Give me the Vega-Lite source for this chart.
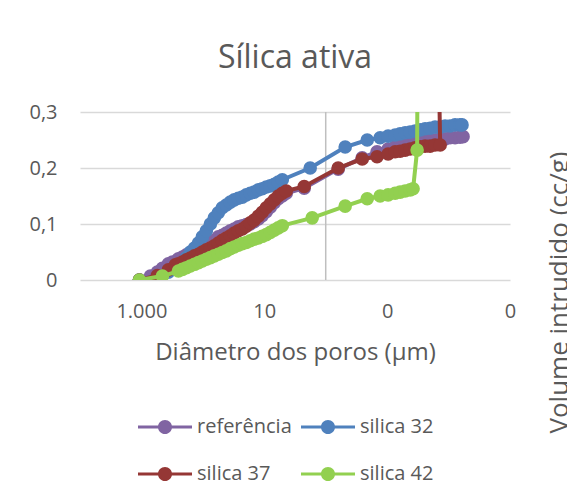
{
  "$schema": "https://vega.github.io/schema/vega-lite/v6.json",
  "width": 430,
  "height": 168,
  "autosize": "none",
  "padding": {"left": 80, "top": 112, "right": 57, "bottom": 209},
  "background": "white",
  "config": {
    "locale": {"number": {"decimal": ",", "thousands": ".", "grouping": [3], "currency": ["R$", ""]}},
    "font": "Open Sans",
    "view": {"stroke": null},
    "axis": {"labelFont": "Open Sans", "titleFont": "Open Sans", "labelColor": "#595959", "titleColor": "#595959", "titleFontWeight": "normal"}
  },
  "title": {"text": "Sílica ativa", "fontSize": 32, "font": "Open Sans", "fontWeight": "normal", "color": "#595959", "anchor": "middle", "frame": "group", "offset": 2, "baseline": "alphabetic"},
  "data": {"values": [
    {"s": "referência", "i": 1, "d": 1079, "v": 0},
    {"s": "referência", "i": 2, "d": 714, "v": 0.007},
    {"s": "referência", "i": 3, "d": 550, "v": 0.014},
    {"s": "referência", "i": 4, "d": 456, "v": 0.021},
    {"s": "referência", "i": 5, "d": 364, "v": 0.029},
    {"s": "referência", "i": 6, "d": 313, "v": 0.032},
    {"s": "referência", "i": 7, "d": 250, "v": 0.038},
    {"s": "referência", "i": 8, "d": 215, "v": 0.041},
    {"s": "referência", "i": 9, "d": 185, "v": 0.045},
    {"s": "referência", "i": 10, "d": 160, "v": 0.048},
    {"s": "referência", "i": 11, "d": 137, "v": 0.052},
    {"s": "referência", "i": 12, "d": 118, "v": 0.055},
    {"s": "referência", "i": 13, "d": 102, "v": 0.059},
    {"s": "referência", "i": 14, "d": 87.7, "v": 0.063},
    {"s": "referência", "i": 15, "d": 75.5, "v": 0.068},
    {"s": "referência", "i": 16, "d": 65.0, "v": 0.071},
    {"s": "referência", "i": 17, "d": 56.0, "v": 0.077},
    {"s": "referência", "i": 18, "d": 48.2, "v": 0.080},
    {"s": "referência", "i": 19, "d": 41.5, "v": 0.084},
    {"s": "referência", "i": 20, "d": 35.7, "v": 0.088},
    {"s": "referência", "i": 21, "d": 30.8, "v": 0.091},
    {"s": "referência", "i": 22, "d": 26.5, "v": 0.095},
    {"s": "referência", "i": 23, "d": 22.8, "v": 0.097},
    {"s": "referência", "i": 24, "d": 19.6, "v": 0.099},
    {"s": "referência", "i": 25, "d": 16.9, "v": 0.100},
    {"s": "referência", "i": 26, "d": 14.6, "v": 0.104},
    {"s": "referência", "i": 27, "d": 12.5, "v": 0.109},
    {"s": "referência", "i": 28, "d": 10.8, "v": 0.115},
    {"s": "referência", "i": 29, "d": 9.28, "v": 0.122},
    {"s": "referência", "i": 30, "d": 7.98, "v": 0.130},
    {"s": "referência", "i": 31, "d": 6.87, "v": 0.138},
    {"s": "referência", "i": 32, "d": 5.92, "v": 0.145},
    {"s": "referência", "i": 33, "d": 5.09, "v": 0.150},
    {"s": "referência", "i": 34, "d": 4.39, "v": 0.155},
    {"s": "referência", "i": 35, "d": 2.24, "v": 0.164},
    {"s": "referência", "i": 36, "d": 0.627, "v": 0.198},
    {"s": "referência", "i": 37, "d": 0.255, "v": 0.218},
    {"s": "referência", "i": 38, "d": 0.146, "v": 0.229},
    {"s": "referência", "i": 39, "d": 0.0964, "v": 0.234},
    {"s": "referência", "i": 40, "d": 0.0741, "v": 0.238},
    {"s": "referência", "i": 41, "d": 0.0615, "v": 0.239},
    {"s": "referência", "i": 42, "d": 0.0509, "v": 0.241},
    {"s": "referência", "i": 43, "d": 0.0422, "v": 0.243},
    {"s": "referência", "i": 44, "d": 0.0351, "v": 0.245},
    {"s": "referência", "i": 45, "d": 0.0290, "v": 0.246},
    {"s": "referência", "i": 46, "d": 0.0241, "v": 0.248},
    {"s": "referência", "i": 47, "d": 0.0200, "v": 0.250},
    {"s": "referência", "i": 48, "d": 0.0166, "v": 0.250},
    {"s": "referência", "i": 49, "d": 0.0137, "v": 0.252},
    {"s": "referência", "i": 50, "d": 0.0114, "v": 0.252},
    {"s": "referência", "i": 51, "d": 0.00946, "v": 0.254},
    {"s": "referência", "i": 52, "d": 0.00784, "v": 0.254},
    {"s": "referência", "i": 53, "d": 0.00651, "v": 0.255},
    {"s": "referência", "i": 54, "d": 0.00581, "v": 0.256},

    {"s": "silica 32", "i": 1, "d": 1079, "v": 0},
    {"s": "silica 32", "i": 2, "d": 550, "v": 0.006},
    {"s": "silica 32", "i": 3, "d": 364, "v": 0.014},
    {"s": "silica 32", "i": 4, "d": 280, "v": 0.020},
    {"s": "silica 32", "i": 5, "d": 250, "v": 0.024},
    {"s": "silica 32", "i": 6, "d": 215, "v": 0.030},
    {"s": "silica 32", "i": 7, "d": 185, "v": 0.040},
    {"s": "silica 32", "i": 8, "d": 160, "v": 0.050},
    {"s": "silica 32", "i": 9, "d": 137, "v": 0.057},
    {"s": "silica 32", "i": 10, "d": 118, "v": 0.066},
    {"s": "silica 32", "i": 11, "d": 102, "v": 0.077},
    {"s": "silica 32", "i": 12, "d": 87.7, "v": 0.088},
    {"s": "silica 32", "i": 13, "d": 75.5, "v": 0.100},
    {"s": "silica 32", "i": 14, "d": 65.0, "v": 0.111},
    {"s": "silica 32", "i": 15, "d": 56.0, "v": 0.120},
    {"s": "silica 32", "i": 16, "d": 48.2, "v": 0.129},
    {"s": "silica 32", "i": 17, "d": 41.5, "v": 0.134},
    {"s": "silica 32", "i": 18, "d": 35.7, "v": 0.139},
    {"s": "silica 32", "i": 19, "d": 30.8, "v": 0.143},
    {"s": "silica 32", "i": 20, "d": 26.5, "v": 0.146},
    {"s": "silica 32", "i": 21, "d": 22.8, "v": 0.148},
    {"s": "silica 32", "i": 22, "d": 19.6, "v": 0.152},
    {"s": "silica 32", "i": 23, "d": 16.9, "v": 0.155},
    {"s": "silica 32", "i": 24, "d": 14.6, "v": 0.157},
    {"s": "silica 32", "i": 25, "d": 12.5, "v": 0.161},
    {"s": "silica 32", "i": 26, "d": 10.8, "v": 0.163},
    {"s": "silica 32", "i": 27, "d": 9.28, "v": 0.166},
    {"s": "silica 32", "i": 28, "d": 7.98, "v": 0.168},
    {"s": "silica 32", "i": 29, "d": 6.87, "v": 0.171},
    {"s": "silica 32", "i": 30, "d": 5.92, "v": 0.175},
    {"s": "silica 32", "i": 31, "d": 5.09, "v": 0.179},
    {"s": "silica 32", "i": 32, "d": 1.79, "v": 0.200},
    {"s": "silica 32", "i": 33, "d": 0.482, "v": 0.2375},
    {"s": "silica 32", "i": 34, "d": 0.211, "v": 0.250},
    {"s": "silica 32", "i": 35, "d": 0.130, "v": 0.254},
    {"s": "silica 32", "i": 36, "d": 0.0964, "v": 0.257},
    {"s": "silica 32", "i": 37, "d": 0.0741, "v": 0.259},
    {"s": "silica 32", "i": 38, "d": 0.0615, "v": 0.261},
    {"s": "silica 32", "i": 39, "d": 0.0509, "v": 0.263},
    {"s": "silica 32", "i": 40, "d": 0.0422, "v": 0.264},
    {"s": "silica 32", "i": 41, "d": 0.0351, "v": 0.266},
    {"s": "silica 32", "i": 42, "d": 0.0290, "v": 0.268},
    {"s": "silica 32", "i": 43, "d": 0.0241, "v": 0.270},
    {"s": "silica 32", "i": 44, "d": 0.0200, "v": 0.271},
    {"s": "silica 32", "i": 45, "d": 0.0166, "v": 0.273},
    {"s": "silica 32", "i": 46, "d": 0.0137, "v": 0.273},
    {"s": "silica 32", "i": 47, "d": 0.0114, "v": 0.275},
    {"s": "silica 32", "i": 48, "d": 0.00946, "v": 0.275},
    {"s": "silica 32", "i": 49, "d": 0.00784, "v": 0.277},
    {"s": "silica 32", "i": 50, "d": 0.00651, "v": 0.277},
    {"s": "silica 32", "i": 51, "d": 0.00604, "v": 0.277},

    {"s": "silica 37", "i": 1, "d": 1079, "v": 0},
    {"s": "silica 37", "i": 2, "d": 550, "v": 0.008},
    {"s": "silica 37", "i": 3, "d": 364, "v": 0.018},
    {"s": "silica 37", "i": 4, "d": 280, "v": 0.027},
    {"s": "silica 37", "i": 5, "d": 250, "v": 0.029},
    {"s": "silica 37", "i": 6, "d": 215, "v": 0.032},
    {"s": "silica 37", "i": 7, "d": 185, "v": 0.036},
    {"s": "silica 37", "i": 8, "d": 160, "v": 0.039},
    {"s": "silica 37", "i": 9, "d": 137, "v": 0.043},
    {"s": "silica 37", "i": 10, "d": 118, "v": 0.046},
    {"s": "silica 37", "i": 11, "d": 102, "v": 0.050},
    {"s": "silica 37", "i": 12, "d": 87.7, "v": 0.054},
    {"s": "silica 37", "i": 13, "d": 75.5, "v": 0.057},
    {"s": "silica 37", "i": 14, "d": 65.0, "v": 0.061},
    {"s": "silica 37", "i": 15, "d": 56.0, "v": 0.066},
    {"s": "silica 37", "i": 16, "d": 48.2, "v": 0.071},
    {"s": "silica 37", "i": 17, "d": 41.5, "v": 0.075},
    {"s": "silica 37", "i": 18, "d": 35.7, "v": 0.079},
    {"s": "silica 37", "i": 19, "d": 30.8, "v": 0.084},
    {"s": "silica 37", "i": 20, "d": 26.5, "v": 0.088},
    {"s": "silica 37", "i": 21, "d": 22.8, "v": 0.091},
    {"s": "silica 37", "i": 22, "d": 19.6, "v": 0.096},
    {"s": "silica 37", "i": 23, "d": 16.9, "v": 0.102},
    {"s": "silica 37", "i": 24, "d": 14.6, "v": 0.107},
    {"s": "silica 37", "i": 25, "d": 12.5, "v": 0.114},
    {"s": "silica 37", "i": 26, "d": 10.8, "v": 0.121},
    {"s": "silica 37", "i": 27, "d": 9.28, "v": 0.129},
    {"s": "silica 37", "i": 28, "d": 7.98, "v": 0.136},
    {"s": "silica 37", "i": 29, "d": 6.87, "v": 0.143},
    {"s": "silica 37", "i": 30, "d": 5.92, "v": 0.150},
    {"s": "silica 37", "i": 31, "d": 5.09, "v": 0.155},
    {"s": "silica 37", "i": 32, "d": 4.39, "v": 0.159},
    {"s": "silica 37", "i": 33, "d": 2.24, "v": 0.167},
    {"s": "silica 37", "i": 34, "d": 0.627, "v": 0.200},
    {"s": "silica 37", "i": 35, "d": 0.255, "v": 0.216},
    {"s": "silica 37", "i": 36, "d": 0.146, "v": 0.220},
    {"s": "silica 37", "i": 37, "d": 0.0964, "v": 0.225},
    {"s": "silica 37", "i": 38, "d": 0.0741, "v": 0.229},
    {"s": "silica 37", "i": 39, "d": 0.0615, "v": 0.230},
    {"s": "silica 37", "i": 40, "d": 0.0509, "v": 0.232},
    {"s": "silica 37", "i": 41, "d": 0.0422, "v": 0.234},
    {"s": "silica 37", "i": 42, "d": 0.0351, "v": 0.236},
    {"s": "silica 37", "i": 43, "d": 0.0290, "v": 0.238},
    {"s": "silica 37", "i": 44, "d": 0.0241, "v": 0.239},
    {"s": "silica 37", "i": 45, "d": 0.0200, "v": 0.239},
    {"s": "silica 37", "i": 46, "d": 0.0166, "v": 0.241},
    {"s": "silica 37", "i": 47, "d": 0.0137, "v": 0.241},
    {"s": "silica 37", "i": 48, "d": 0.0148, "v": 0.45},
    {"s": "silica 37", "i": 49, "d": 0.0148, "v": 0.6},

    {"s": "silica 42", "i": 1, "d": 1079, "v": 0},
    {"s": "silica 42", "i": 2, "d": 456, "v": 0.007},
    {"s": "silica 42", "i": 3, "d": 250, "v": 0.016},
    {"s": "silica 42", "i": 4, "d": 215, "v": 0.019},
    {"s": "silica 42", "i": 5, "d": 185, "v": 0.022},
    {"s": "silica 42", "i": 6, "d": 160, "v": 0.025},
    {"s": "silica 42", "i": 7, "d": 137, "v": 0.028},
    {"s": "silica 42", "i": 8, "d": 118, "v": 0.031},
    {"s": "silica 42", "i": 9, "d": 102, "v": 0.034},
    {"s": "silica 42", "i": 10, "d": 87.7, "v": 0.037},
    {"s": "silica 42", "i": 11, "d": 75.5, "v": 0.040},
    {"s": "silica 42", "i": 12, "d": 65.0, "v": 0.043},
    {"s": "silica 42", "i": 13, "d": 56.0, "v": 0.046},
    {"s": "silica 42", "i": 14, "d": 48.2, "v": 0.049},
    {"s": "silica 42", "i": 15, "d": 41.5, "v": 0.052},
    {"s": "silica 42", "i": 16, "d": 35.7, "v": 0.056},
    {"s": "silica 42", "i": 17, "d": 30.8, "v": 0.059},
    {"s": "silica 42", "i": 18, "d": 26.5, "v": 0.062},
    {"s": "silica 42", "i": 19, "d": 22.8, "v": 0.065},
    {"s": "silica 42", "i": 20, "d": 19.6, "v": 0.067},
    {"s": "silica 42", "i": 21, "d": 16.9, "v": 0.070},
    {"s": "silica 42", "i": 22, "d": 14.6, "v": 0.073},
    {"s": "silica 42", "i": 23, "d": 12.5, "v": 0.075},
    {"s": "silica 42", "i": 24, "d": 10.8, "v": 0.078},
    {"s": "silica 42", "i": 25, "d": 9.28, "v": 0.081},
    {"s": "silica 42", "i": 26, "d": 7.98, "v": 0.085},
    {"s": "silica 42", "i": 27, "d": 6.87, "v": 0.089},
    {"s": "silica 42", "i": 28, "d": 5.92, "v": 0.093},
    {"s": "silica 42", "i": 29, "d": 5.09, "v": 0.097},
    {"s": "silica 42", "i": 30, "d": 1.66, "v": 0.111},
    {"s": "silica 42", "i": 31, "d": 0.482, "v": 0.132},
    {"s": "silica 42", "i": 32, "d": 0.211, "v": 0.145},
    {"s": "silica 42", "i": 33, "d": 0.130, "v": 0.150},
    {"s": "silica 42", "i": 34, "d": 0.0964, "v": 0.152},
    {"s": "silica 42", "i": 35, "d": 0.0741, "v": 0.155},
    {"s": "silica 42", "i": 36, "d": 0.0615, "v": 0.157},
    {"s": "silica 42", "i": 37, "d": 0.0509, "v": 0.159},
    {"s": "silica 42", "i": 38, "d": 0.0422, "v": 0.161},
    {"s": "silica 42", "i": 39, "d": 0.0378, "v": 0.163},
    {"s": "silica 42", "i": 40, "d": 0.0325, "v": 0.232},
    {"s": "silica 42", "i": 41, "d": 0.0318, "v": 0.45},
    {"s": "silica 42", "i": 42, "d": 0.031, "v": 0.6}
  ]},
  "encoding": {
    "x": {
      "field": "d", "type": "quantitative",
      "scale": {"type": "log", "domain": [0.001, 10000], "reverse": true, "nice": false},
      "axis": {"title": "Diâmetro dos poros (µm)", "values": [1000, 10, 0.1, 0.001], "format": ",.0f", "grid": false, "domain": false, "ticks": false, "labelFontSize": 20, "labelPadding": 21, "labelFlush": false, "labelOverlap": false, "titleFontSize": 24, "titlePadding": 19}
    },
    "y": {
      "field": "v", "type": "quantitative",
      "scale": {"domain": [0, 0.3], "nice": false},
      "axis": {"title": "Volume intrudido (cc/g)", "values": [0, 0.1, 0.2, 0.3], "format": ".1~f", "grid": true, "gridColor": "#D9D9D9", "gridWidth": 1.5, "domain": false, "ticks": false, "labelFontSize": 20, "labelPadding": 23, "titleFontSize": 26, "titleAngle": 270, "titleX": 487, "titleY": 180, "titleAlign": "center", "titleBaseline": "alphabetic"}
    },
    "color": {
      "field": "s", "type": "nominal",
      "scale": {"domain": ["referência", "silica 32", "silica 37", "silica 42"], "range": ["#8064A2", "#4F81BD", "#953735", "#92D050"]},
      "legend": {"orient": "none", "legendX": 58, "legendY": 288, "direction": "horizontal", "columns": 2, "title": null, "labelFontSize": 20, "labelColor": "#595959", "labelFont": "Open Sans", "symbolType": "M-1,-0.055L1,-0.055L1,0.055L-1,0.055Z M-0.26,0A0.26,0.26 0 1,1 0.26,0A0.26,0.26 0 1,1 -0.26,0Z", "symbolSize": 2916, "symbolStrokeWidth": 0, "labelOffset": 5, "columnPadding": 9, "rowPadding": 10, "padding": 0,
        "encode": {"symbols": {"update": {"fill": {"scale": "color", "field": "value"}, "opacity": {"value": 1}, "fillOpacity": {"value": 1}}}}}
    },
    "order": {"field": "i", "type": "quantitative"}
  },
  "layer": [
    {
      "data": {"values": [{"d": 1, "v": 0, "i": 0}, {"d": 1, "v": 0.3, "i": 1}]},
      "mark": {"type": "line", "strokeWidth": 1.5},
      "encoding": {"color": {"value": "#BFBFBF"}}
    },
    {
      "transform": [{"filter": "datum.s === 'referência'"}],
      "layer": [
        {"mark": {"type": "line", "strokeWidth": 4, "clip": true}},
        {"mark": {"type": "point", "filled": true, "size": 185, "opacity": 1, "clip": true}}
      ]
    },
    {
      "transform": [{"filter": "datum.s === 'silica 32'"}],
      "layer": [
        {"mark": {"type": "line", "strokeWidth": 4, "clip": true}},
        {"mark": {"type": "point", "filled": true, "size": 185, "opacity": 1, "clip": true}}
      ]
    },
    {
      "transform": [{"filter": "datum.s === 'silica 37'"}],
      "layer": [
        {"mark": {"type": "line", "strokeWidth": 4, "clip": true}},
        {"mark": {"type": "point", "filled": true, "size": 185, "opacity": 1, "clip": true}}
      ]
    },
    {
      "transform": [{"filter": "datum.s === 'silica 42'"}],
      "layer": [
        {"mark": {"type": "line", "strokeWidth": 4, "clip": true}},
        {"mark": {"type": "point", "filled": true, "size": 185, "opacity": 1, "clip": true}}
      ]
    }
  ]
}
